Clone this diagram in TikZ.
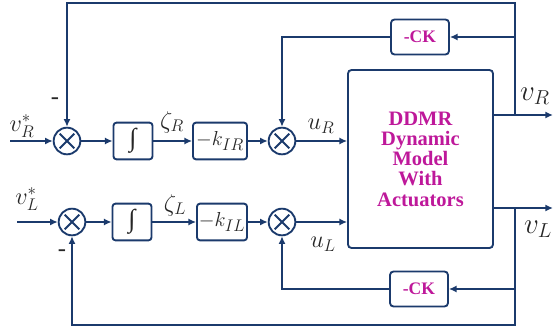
\documentclass[tikz,border=0pt]{standalone}
\usepackage{fontspec}
\setmainfont{Liberation Serif}
\newfontfamily\tms{Liberation Serif}
\usepackage{amsmath}
\usetikzlibrary{arrows.meta,positioning,calc}
\definecolor{navy}{HTML}{1B3A6C}
\definecolor{plum}{HTML}{BE189A}

\begin{document}
\begin{tikzpicture}[
  x=0.03cm, y=-0.03cm, line width=1.6pt, color=navy,
  block/.style={draw, rounded corners=2.5pt, minimum width=1.17cm, minimum height=1.1cm, inner sep=0pt, text=black!85, font=\fontsize{19}{22}\selectfont},
  ckbox/.style={draw, rounded corners=3pt, minimum width=1.74cm, minimum height=1.05cm, text=plum, font=\tms\fontsize{15}{17}\selectfont\bfseries},
  plant/.style={draw, rounded corners=3pt, minimum width=4.35cm, minimum height=5.34cm, align=center, text=plum, font=\tms\fontsize{17.5}{17.3}\selectfont\bfseries},
  sumnode/.style={draw, circle, minimum size=0.8cm, inner sep=0pt,
    path picture={\draw ($(path picture bounding box.center)+(-0.22cm,-0.22cm)$) -- ($(path picture bounding box.center)+(0.22cm,0.22cm)$)
      ($(path picture bounding box.center)+(-0.22cm,0.22cm)$) -- ($(path picture bounding box.center)+(0.22cm,-0.22cm)$);}},
  lbl/.style={text=black!85, inner sep=0pt, font=\fontsize{21}{24}\selectfont},
  outlbl/.style={text=black!85, inner sep=0pt, font=\fontsize{24}{27}\selectfont},
  >={Latex[length=6.5pt,width=6pt]}
]
\useasboundingbox (0,0) rectangle (555,330);

% right wheel loop
\node[sumnode] (sR1) at (67,141) {};
\node[block, font=\tms\fontsize{22}{24}\selectfont\bfseries] (iR) at (133,141) {∫};
\node[block, minimum width=1.62cm] (kR) at (220,141) {$-k_{IR}$};
\node[sumnode] (sR2) at (282,141) {};
\node[ckbox] (ckR) at (420,37) {-CK};

% left wheel loop
\node[sumnode] (sL1) at (72,222) {};
\node[block, font=\tms\fontsize{22}{24}\selectfont\bfseries] (iL) at (132,222) {∫};
\node[block, minimum width=1.5cm] (kL) at (222,222) {$-k_{IL}$};
\node[sumnode] (sL2) at (282,222) {};
\node[ckbox] (ckL) at (419,289) {-CK};

\node[plant] (ddmr) at (420.5,159) {DDMR\\Dynamic\\Model\\With\\Actuators};

\coordinate (inR) at (10,141); \coordinate (inL) at (17,222);
\coordinate (brR) at (515,115); \coordinate (brL) at (515,208);
\coordinate (outR) at (553,115); \coordinate (outL) at (553,208);
\coordinate (topR) at (515,3); \coordinate (botL) at (515,325);

\node[lbl] (vRs) at (22,126) {$v_R^{*}$};
\node[lbl] (vLs) at (27,199) {$v_L^{*}$};
\node[lbl] (mR) at (55,101) {-};
\node[lbl] (mL) at (62,253) {-};
\node[lbl] (zR) at (172,122) {$\zeta_R$};
\node[lbl] (zL) at (175,205) {$\zeta_L$};
\node[lbl] (uR) at (321,126) {$u_R$};
\node[lbl] (uL) at (323,244) {$u_L$};
\node[outlbl] (vR) at (535,96) {$v_R$};
\node[outlbl] (vL) at (538,229) {$v_L$};

\draw[->] (inR) -- (sR1); \draw[->] (sR1) -- (iR); \draw[->] (iR) -- (kR); \draw[->] (kR) -- (sR2);
\draw[->] (sR2) -- (sR2 -| ddmr.west);
\draw[->] (ddmr.east |- brR) -- (outR);
\draw[->] (brR) -- (topR) -| (sR1.north);
\draw[->] (brR |- ckR) -- (ckR.east);
\draw[->] (ckR.west) -| (sR2.north);

\draw[->] (inL) -- (sL1); \draw[->] (sL1) -- (iL); \draw[->] (iL) -- (kL); \draw[->] (kL) -- (sL2);
\draw[->] (sL2) -- (sL2 -| ddmr.west);
\draw[->] (ddmr.east |- brL) -- (outL);
\draw[->] (brL) -- (botL) -| (sL1.south);
\draw[->] (brL |- ckL) -- (ckL.east);
\draw[->] (ckL.west) -| (sL2.south);
\end{tikzpicture}
\end{document}
